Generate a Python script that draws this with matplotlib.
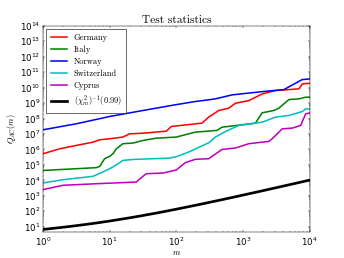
import matplotlib
matplotlib.use('Agg')
import matplotlib.pyplot as plt
import matplotlib.ticker as mtick
import numpy as np

matplotlib.rcParams['mathtext.fontset'] = 'cm'
matplotlib.rcParams['axes.unicode_minus'] = False

# Values (log10 of the statistic)
germany_m = [1, 1.78, 3.16, 5.62, 7.08, 10, 15.8, 20, 31.6, 70.8, 84, 100, 243, 306, 434, 612,
             771, 1224, 1941, 3083, 6920, 7766, 10000]
germany_log = [5.72, 6.04, 6.26, 6.47, 6.62, 6.69, 6.80, 7.01, 7.05, 7.18, 7.48, 7.52, 7.70, 8.09,
               8.52, 8.67, 8.99, 9.16, 9.59, 9.81, 9.92, 10.24, 10.28]

italy_m = [1, 6.3, 7.08, 8.4, 10, 11.2, 12.6, 15.8, 22.4, 31.6, 50.1, 100, 193, 409, 486, 1541,
           1941, 2909, 3459, 4897, 6920, 8716, 10000]
italy_log = [4.64, 4.82, 4.90, 5.40, 5.55, 5.72, 6.04, 6.37, 6.41, 6.58, 6.73, 6.80, 7.12, 7.23,
             7.44, 7.70, 8.37, 8.52, 8.67, 9.23, 9.27, 9.38, 9.38]

norway_m = [1, 3.16, 10, 31.6, 100, 193, 386, 687, 1941, 4111, 5494, 7766, 10000]
norway_log = [7.27, 7.66, 8.13, 8.52, 8.90, 9.10, 9.27, 9.53, 9.74, 9.87, 10.17, 10.52, 10.56]

swiss_m = [1, 2.0, 5.62, 7.94, 11.2, 15.8, 22.4, 44.7, 79.4, 100, 153, 306, 386, 546, 865, 1941,
           3083, 4897, 7766, 8716, 10000]
swiss_log = [3.83, 4.04, 4.26, 4.54, 4.86, 5.29, 5.35, 5.40, 5.44, 5.53, 5.83, 6.43, 6.80, 7.16,
             7.55, 7.76, 8.09, 8.20, 8.45, 8.62, 8.62]

cyprus_m = [1, 2.0, 6.3, 25.1, 31.6, 35.5, 63, 100, 136, 193, 306, 486, 771, 1224, 2447, 2746,
            3881, 5494, 7331, 8716, 10000]
cyprus_log = [3.40, 3.68, 3.78, 3.89, 4.26, 4.43, 4.47, 4.67, 5.14, 5.36, 5.40, 6.00, 6.09, 6.37,
              6.52, 6.69, 7.33, 7.38, 7.55, 8.30, 8.36]

# 0.99 quantile of chi-square with m degrees of freedom
chi_m = [1, 2, 3, 5, 7, 10, 20, 30, 50, 70, 100, 200, 300, 500, 700, 1000, 2000, 3000, 5000,
         7000, 10000]
chi_q = [6.635, 9.210, 11.345, 15.086, 18.475, 23.209, 37.566, 50.892, 76.154, 100.425, 135.807,
         249.445, 359.906, 576.493, 789.7, 1106.97, 2149.0, 3182.0, 5235.0, 7277.0, 10331.0]

series = [
    ('Germany', germany_m, germany_log, 'r'),
    ('Italy', italy_m, italy_log, 'g'),
    ('Norway', norway_m, norway_log, 'b'),
    ('Switzerland', swiss_m, swiss_log, 'c'),
    ('Cyprus', cyprus_m, cyprus_log, 'm'),
]

fig = plt.figure(figsize=(8, 6), dpi=43)
ax = fig.add_axes([0.125, 0.1, 0.775, 0.8])

for name, m, lq, col in series:
    ax.plot(m, np.power(10.0, lq), color=col, linewidth=2.6, label=name)
ax.plot(chi_m, chi_q, color='k', linewidth=4.5, label=r'$(\chi^2_m)^{-1}(0.99)$')

ax.set_xscale('log')
ax.set_yscale('log')
ax.set_xlim(1, 1e4)
ax.set_ylim(4.4, 1e14)
ax.yaxis.set_major_locator(mtick.LogLocator(base=10, numticks=20))
ax.yaxis.set_minor_locator(mtick.LogLocator(base=10, subs=np.arange(2, 10), numticks=20))
ax.yaxis.set_minor_formatter(mtick.NullFormatter())
ax.xaxis.set_minor_formatter(mtick.NullFormatter())

ax.tick_params(which='both', direction='in', top=True, right=True, labelsize=14.5)
ax.tick_params(which='major', length=4, width=0.8, pad=5)
ax.tick_params(which='minor', length=2, width=0.6)

ax.set_title('Test statistics', fontsize=19, family='cmr10', pad=4)
ax.set_xlabel(r'$m$', fontsize=14, labelpad=1)
ax.set_ylabel(r'$Q_{AC}(m)$', fontsize=14, labelpad=2)

leg = ax.legend(loc='upper left', prop={'family': 'cmr10', 'size': 14}, fancybox=False,
                handlelength=2.0, borderpad=0.5, labelspacing=0.45, borderaxespad=0.4)
leg.get_frame().set_edgecolor('k')
leg.get_frame().set_linewidth(1.2)

fig.savefig('out.png', dpi=43)
